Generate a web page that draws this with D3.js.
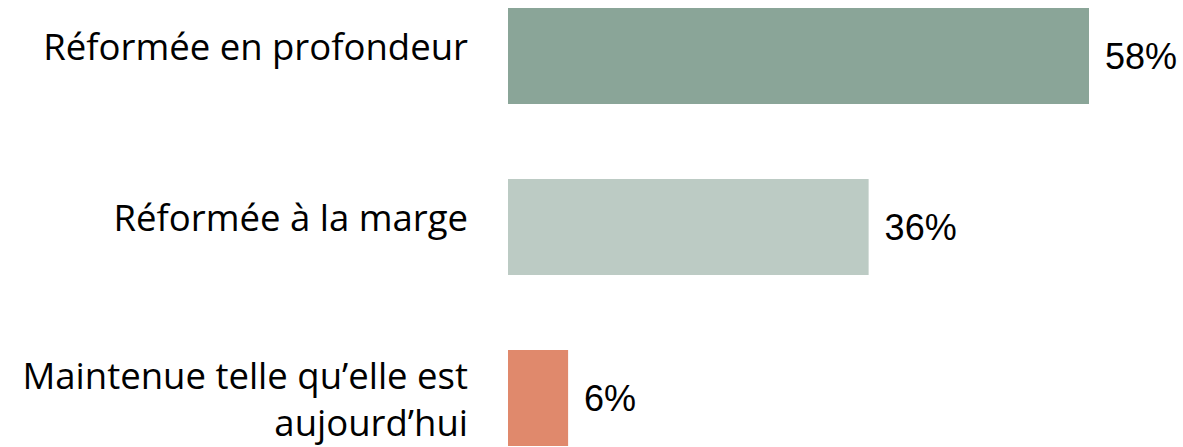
<!DOCTYPE html>
<html>
<head>
<meta charset="utf-8">
<script src="https://cdn.jsdelivr.net/npm/d3@7"></script>
<style>
	html, body { margin: 0; padding: 0; background: #fff; }
	svg { display: block; }
</style>
</head>
<body>
<svg id="chart" width="1183" height="447"></svg>
<script>
const categories = ["Réformée en profondeur", "Réformée à la marge", "Maintenue telle qu’elle est aujourd’hui"];
const categoryLines = [["Réformée en profondeur"], ["Réformée à la marge"], ["Maintenue telle qu’elle est", "aujourd’hui"]];
const values = [58, 36, 6];
const valueLabels = ["58%", "36%", "6%"];
const colors = ["#8aa598", "#bccbc4", "#e0896c"];

const chart = d3.select("#chart");
const barLeft = 508;
const barRight = 1089;
const labelGap = 40;
const valueGap = 16;
const lineHeight = 47;

const x = d3.scaleLinear()
	.domain([0, d3.max(values)])
	.range([barLeft, barRight]);

const y = d3.scaleBand()
	.domain(categories)
	.range([8, 446])
	.paddingInner(75 / 171)
	.paddingOuter(0);

const bars = chart.append("g");
bars.selectAll("rect")
	.data(values)
	.enter()
	.append("rect")
	.attr("x", x(0))
	.attr("y", (d, i) => y(categories[i]))
	.attr("width", d => x(d) - x(0))
	.attr("height", y.bandwidth())
	.attr("fill", (d, i) => colors[i]);

const vals = chart.append("g")
	.attr("font-family", "Liberation Sans, Arial, sans-serif")
	.attr("font-size", 36)
	.attr("fill", "#000");
vals.selectAll("text")
	.data(values)
	.enter()
	.append("text")
	.attr("x", d => x(d) + valueGap)
	.attr("y", (d, i) => y(categories[i]) + y.bandwidth() / 2 + 13)
	.text((d, i) => valueLabels[i]);

const cats = chart.append("g")
	.attr("font-family", "Open Sans, sans-serif")
	.attr("font-size", 36.5)
	.attr("fill", "#000")
	.attr("text-anchor", "end");
cats.selectAll("text")
	.data(categoryLines)
	.enter()
	.append("text")
	.attr("transform", (lines, i) => {
		const mid = y(categories[i]) + y.bandwidth() / 2;
		const first = mid + 4 - (lines.length - 1) * 13;
		return "translate(" + (barLeft - labelGap) + ", " + first + ")";
	})
	.selectAll("tspan")
	.data(d => d)
	.enter()
	.append("tspan")
	.attr("x", 0)
	.attr("dy", (d, j) => j === 0 ? 0 : lineHeight)
	.text(d => d);
</script>
</body>
</html>
